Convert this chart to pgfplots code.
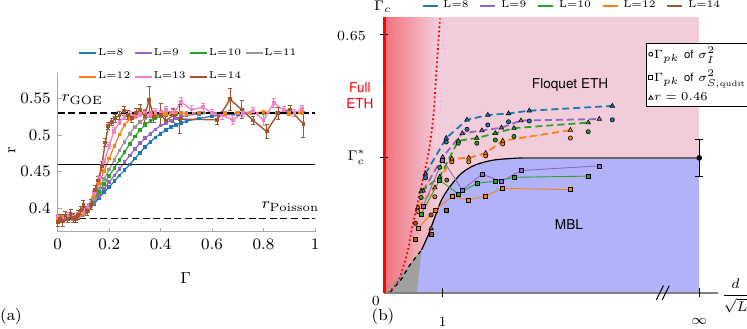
\documentclass[border=0pt]{standalone}
\usepackage{fontspec}
\usepackage{pgfplots}
\usepackage{pgfplotstable}
\pgfplotsset{compat=1.18}
\newfontfamily\helv{TeX Gyre Heros}
\definecolor{c8}{RGB}{31,119,180}
\definecolor{c9}{RGB}{148,103,189}
\definecolor{c10}{RGB}{44,160,44}
\definecolor{c11}{RGB}{150,150,150}
\definecolor{c12}{RGB}{255,127,14}
\definecolor{c13}{RGB}{240,128,200}
\definecolor{c14}{RGB}{160,85,45}
\definecolor{pinkbg}{RGB}{242,205,217}
\definecolor{bluebg}{RGB}{178,178,250}
\definecolor{redgrad}{RGB}{243,112,122}
\definecolor{graybg}{RGB}{160,160,160}

\pgfplotstableread{
x y
0.00 0.386
0.02 0.387
0.04 0.386
0.06 0.387
0.08 0.388
0.10 0.390
0.12 0.396
0.14 0.405
0.16 0.414
0.18 0.422
0.20 0.429
0.22 0.437
0.24 0.445
0.26 0.452
0.28 0.460
0.30 0.468
0.32 0.476
0.34 0.484
0.36 0.491
0.38 0.497
0.40 0.502
0.42 0.507
0.44 0.511
0.46 0.514
0.48 0.517
0.50 0.519
0.55 0.523
0.60 0.526
0.65 0.528
0.70 0.529
0.75 0.530
0.80 0.530
0.85 0.530
0.90 0.531
0.95 0.530
}\Lviii
\pgfplotstableread{
x y
0.00 0.387
0.02 0.386
0.04 0.387
0.06 0.388
0.08 0.388
0.10 0.390
0.12 0.397
0.14 0.407
0.16 0.417
0.18 0.427
0.20 0.436
0.22 0.445
0.24 0.454
0.26 0.463
0.28 0.472
0.30 0.481
0.32 0.489
0.34 0.496
0.36 0.502
0.38 0.508
0.40 0.513
0.42 0.517
0.44 0.520
0.46 0.523
0.48 0.525
0.50 0.527
0.55 0.529
0.60 0.530
0.65 0.530
0.70 0.531
0.75 0.530
0.80 0.530
0.85 0.531
0.90 0.530
0.95 0.530
}\Lix
\pgfplotstableread{
x y
0.00 0.387
0.02 0.387
0.04 0.386
0.06 0.388
0.08 0.389
0.10 0.391
0.12 0.399
0.14 0.410
0.16 0.422
0.18 0.433
0.20 0.444
0.22 0.455
0.24 0.466
0.26 0.477
0.28 0.488
0.30 0.498
0.32 0.507
0.34 0.514
0.36 0.519
0.38 0.523
0.40 0.526
0.42 0.528
0.44 0.529
0.46 0.529
0.48 0.530
0.50 0.530
0.55 0.530
0.60 0.531
0.65 0.530
0.70 0.530
0.75 0.531
0.80 0.530
0.85 0.530
0.90 0.531
0.95 0.530
}\Lx
\pgfplotstableread{
x y
0.00 0.386
0.02 0.388
0.04 0.387
0.06 0.388
0.08 0.389
0.10 0.391
0.12 0.400
0.14 0.413
0.16 0.427
0.18 0.440
0.20 0.453
0.22 0.466
0.24 0.479
0.26 0.491
0.28 0.502
0.30 0.511
0.32 0.518
0.34 0.523
0.36 0.526
0.38 0.528
0.40 0.529
0.42 0.530
0.44 0.530
0.46 0.531
0.48 0.530
0.50 0.530
0.55 0.531
0.60 0.530
0.65 0.531
0.70 0.530
0.75 0.530
0.80 0.531
0.85 0.530
0.90 0.530
0.95 0.531
}\Lxi
\pgfplotstableread{
x y
0.00 0.387
0.02 0.388
0.04 0.386
0.06 0.389
0.08 0.389
0.10 0.392
0.12 0.401
0.14 0.417
0.16 0.434
0.18 0.451
0.20 0.468
0.22 0.485
0.24 0.501
0.26 0.514
0.28 0.522
0.30 0.526
0.32 0.528
0.34 0.529
0.36 0.530
0.38 0.530
0.40 0.531
0.42 0.529
0.44 0.530
0.46 0.531
0.48 0.530
0.50 0.529
0.55 0.531
0.60 0.530
0.65 0.529
0.70 0.531
0.75 0.530
0.80 0.532
0.85 0.530
0.90 0.529
0.95 0.530
}\Lxii
\pgfplotstableread{
x y e
0.00 0.388 0.004
0.02 0.386 0.004
0.04 0.390 0.004
0.06 0.388 0.004
0.08 0.393 0.004
0.10 0.395 0.004
0.12 0.403 0.004
0.14 0.421 0.004
0.16 0.441 0.004
0.18 0.463 0.004
0.20 0.486 0.004
0.22 0.506 0.004
0.24 0.518 0.004
0.26 0.525 0.004
0.28 0.528 0.004
0.30 0.527 0.004
0.32 0.529 0.004
0.34 0.531 0.004
0.36 0.528 0.004
0.38 0.532 0.004
0.40 0.530 0.004
0.42 0.534 0.005
0.45 0.530 0.005
0.48 0.545 0.006
0.52 0.535 0.005
0.565 0.538 0.005
0.60 0.530 0.005
0.64 0.527 0.005
0.68 0.521 0.006
0.72 0.530 0.005
0.76 0.533 0.005
0.80 0.521 0.008
0.84 0.544 0.006
0.88 0.534 0.005
0.92 0.530 0.005
0.95 0.536 0.005
}\Lxiii
\pgfplotstableread{
x y e
0.000 0.381 0.006
0.010 0.386 0.006
0.020 0.383 0.008
0.030 0.389 0.006
0.040 0.385 0.005
0.050 0.392 0.007
0.060 0.387 0.006
0.070 0.385 0.005
0.080 0.391 0.006
0.090 0.397 0.006
0.100 0.404 0.007
0.115 0.396 0.006
0.130 0.405 0.007
0.145 0.425 0.006
0.158 0.438 0.006
0.171 0.458 0.006
0.185 0.490 0.006
0.197 0.513 0.005
0.210 0.518 0.005
0.223 0.523 0.005
0.240 0.527 0.005
0.258 0.533 0.006
0.272 0.528 0.006
0.288 0.524 0.006
0.305 0.530 0.006
0.320 0.535 0.007
0.338 0.526 0.008
0.355 0.548 0.018
0.374 0.525 0.007
0.400 0.528 0.015
0.420 0.520 0.006
0.449 0.527 0.010
0.475 0.522 0.020
0.620 0.521 0.006
0.670 0.549 0.015
0.715 0.535 0.012
0.760 0.520 0.006
0.812 0.505 0.010
0.857 0.530 0.008
0.903 0.535 0.005
0.955 0.515 0.018
}\Lxiv

\pgfplotsset{
  lser/.style={line width=0.6pt, mark=square*, mark size=0.6pt, forget plot,
    error bars/.cd, y dir=both, y fixed=0.0015,
    error bar style={line width=0.4pt},
    error mark options={rotate=90, mark size=0.9pt, line width=0.4pt}},
  lserE/.style={line width=0.7pt, mark=square*, mark size=0.6pt, forget plot,
    error bars/.cd, y dir=both, y explicit,
    error bar style={line width=0.5pt},
    error mark options={rotate=90, mark size=1pt, line width=0.5pt}},
  dl/.style={line width=0.9pt, dash pattern=on 3.5pt off 2pt, forget plot},
  tri/.style={only marks, mark=triangle*, mark size=1.3pt, forget plot,
    mark options={draw=black, line width=0.3pt, fill=#1}},
  circ/.style={only marks, mark=*, mark size=1.05pt, forget plot,
    mark options={draw=black, line width=0.3pt, fill=#1}},
  sqr/.style={#1, line width=0.45pt, mark=square*, mark size=1pt, forget plot,
    mark options={draw=black, line width=0.3pt, fill=#1}},
}

\begin{document}
\begin{tikzpicture}
\path[use as bounding box] (0,0) rectangle (373.5pt,164pt);

% ---------------- panel (a) ----------------
\begin{axis}[
  at={(28.85pt,48.15pt)}, anchor=south west, scale only axis,
  width=128.65pt, height=79.35pt,
  xmin=0, xmax=1, ymin=0.368, ymax=0.585,
  axis lines*=left, axis line style={gray!70, line width=0.4pt},
  tick align=inside, major tick length=2pt, tick style={gray!70, line width=0.4pt},
  xtick={0,0.2,0.4,0.6,0.8,1}, xticklabels={0,0.2,0.4,0.6,0.8,1},
  ytick={0.4,0.45,0.5,0.55}, yticklabels={0.4,0.45,0.5,0.55},
  ticklabel style={font=\fontsize{8}{9}\selectfont},
  xlabel={$\Gamma$}, ylabel={r},
  xlabel style={at={(axis description cs:0.497,-0.292)}, anchor=center, font=\fontsize{8}{9}\selectfont},
  ylabel style={at={(axis description cs:-0.178,0.515)}, anchor=center, font=\fontsize{8}{9}\selectfont},
  clip=false,
  legend columns=4,
  legend cell align=left,
  legend style={at={(0.51,1.05)}, anchor=center, draw=none, fill=none,
    inner sep=0pt, row sep=5pt, font=\fontsize{5}{6}\selectfont,
    nodes={inner sep=1pt},
    /tikz/every even column/.append style={column sep=1.2pt}},
  legend image code/.code={\fill[#1] (0pt,-0.28pt) rectangle (8pt,0.28pt);},
]
\addplot[c8, lser] table[x=x,y=y] {\Lviii};
\addplot[c9, lser] table[x=x,y=y] {\Lix};
\addplot[c10, lser] table[x=x,y=y] {\Lx};
\addplot[c11, lser] table[x=x,y=y] {\Lxi};
\addplot[c12, lser] table[x=x,y=y] {\Lxii};
\addplot[c13, lserE] table[x=x,y=y,y error=e] {\Lxiii};
\addplot[c14, lserE] table[x=x,y=y,y error=e] {\Lxiv};
\addplot[black, line width=0.8pt, dash pattern=on 3.5pt off 1.8pt, forget plot] coordinates {(0,0.5307) (1,0.5307)};
\addplot[black, line width=0.8pt, dash pattern=on 3.5pt off 1.8pt, forget plot] coordinates {(0,0.3863) (1,0.3863)};
\addplot[black, line width=0.8pt, forget plot] coordinates {(0,0.46) (1,0.46)};
\addlegendimage{color=c8}\addlegendentry{L=8}
\addlegendimage{color=c9}\addlegendentry{L=9}
\addlegendimage{color=c10}\addlegendentry{L=10}
\addlegendimage{color=c11}\addlegendentry{L=11}
\addlegendimage{color=c12}\addlegendentry{L=12}
\addlegendimage{color=c13}\addlegendentry{L=13}
\addlegendimage{color=c14}\addlegendentry{L=14}
\node[font=\fontsize{8}{9}\selectfont] at (axis cs:0.096,0.549) {$r_{\mathrm{GOE}}$};
\node[font=\fontsize{8}{9}\selectfont] at (axis cs:0.905,0.4025) {$r_{\mathrm{Poisson}}$};
\end{axis}

% ---------------- panel (b) ----------------
\begin{axis}[
  at={(192pt,17.65pt)}, anchor=south west, scale only axis,
  width=167pt, height=137.8pt,
  xmin=0, xmax=5.69, ymin=0, ymax=0.695,
  axis lines=none, clip=false,
  legend columns=5,
  legend cell align=left,
  legend style={at={(0.112,1.040)}, anchor=west, draw=none, fill=none,
    inner sep=0pt, font=\fontsize{5}{6}\selectfont,
    nodes={inner sep=1pt},
    /tikz/every odd column/.append style={column sep=1.5pt},
    /tikz/every even column/.append style={column sep=4.5pt}},
  legend image code/.code={\draw[#1] (0pt,0pt) -- (7.5pt,0pt);},
]
\addplot[draw=none, fill=pinkbg, forget plot] coordinates {(0,0) (5.37,0) (5.37,0.695) (0,0.695)} -- cycle;
\shade[left color=redgrad, right color=pinkbg] (axis cs:0,0) rectangle (axis cs:0.9,0.695);
\addplot[draw=none, fill=bluebg, forget plot] coordinates {(0.56,0) (0.64,0.108) (0.755,0.146) (0.87,0.192) (0.98,0.234) (1.12,0.267) (1.32,0.301) (1.55,0.322) (1.89,0.335) (2.35,0.340) (5.37,0.340) (5.37,0)} -- cycle;
\addplot[draw=none, fill=graybg, forget plot] coordinates {(0.02,0) (0.56,0) (0.64,0.108)} -- cycle;
\addplot[black, line width=0.6pt, dash pattern=on 2pt off 2pt, forget plot] coordinates {(0.1,0) (0.3,0.035) (0.44,0.07) (0.64,0.108)};
\addplot[black, line width=0.6pt, smooth, forget plot] coordinates {(0.64,0.108) (0.755,0.146) (0.87,0.192) (0.98,0.234) (1.12,0.267) (1.32,0.301) (1.55,0.322) (1.89,0.335) (2.35,0.340)};
\addplot[black!60, line width=1pt, forget plot] coordinates {(2.35,0.340) (5.37,0.340)};
\addplot[red, line width=0.9pt, dash pattern=on 0.9pt off 1.3pt, smooth, forget plot] coordinates {(0.07,0) (0.24,0.028) (0.33,0.066) (0.41,0.108) (0.47,0.158) (0.6,0.245) (0.755,0.35) (0.84,0.444) (0.898,0.57) (0.954,0.692)};
\addplot[gray, line width=0.8pt, forget plot] coordinates {(0,0) (5.69,0)};
\addplot[red, line width=1.5pt, forget plot] coordinates {(0,0) (0,0.695)};

% dashed lines through r=0.46 points
\addplot[c8, dl] coordinates {(0.707,0.300) (1.061,0.390) (1.414,0.436) (1.768,0.448) (2.121,0.452) (2.475,0.459) (3.889,0.471)};
\addplot[c9, dl] coordinates {(0.667,0.257) (1.0,0.342) (1.333,0.402) (1.667,0.409) (2.0,0.416) (2.333,0.434) (3.667,0.438)};
\addplot[c10, dl] coordinates {(0.632,0.255) (0.949,0.292) (1.265,0.383) (1.581,0.390) (1.897,0.402) (2.214,0.415) (3.479,0.429)};
\addplot[c12, dl] coordinates {(0.577,0.215) (0.866,0.265) (1.155,0.338) (1.443,0.340) (1.732,0.352) (2.021,0.383) (3.175,0.410)};

% squares (sigma_S)
\addplot[sqr=c9] coordinates {(0.667,0.217) (1.0,0.335) (1.333,0.259) (1.667,0.299) (2.0,0.281) (2.333,0.308) (3.667,0.320)};
\addplot[sqr=c10] coordinates {(0.632,0.198) (0.949,0.284) (1.265,0.249) (1.581,0.276) (1.897,0.281) (2.214,0.291) (3.479,0.294)};
\addplot[sqr=c12] coordinates {(0.577,0.162) (0.866,0.208) (1.155,0.242) (1.443,0.234) (1.732,0.244) (2.021,0.263) (3.175,0.260)};
\addplot[only marks, mark=square*, mark size=1pt, forget plot, mark options={draw=black, line width=0.3pt, fill=c14}] coordinates {(0.535,0.135) (0.802,0.148) (1.069,0.209)};

% circles (sigma_I)
\addplot[circ=c8] coordinates {(0.707,0.290) (1.061,0.380) (1.414,0.412) (1.768,0.423) (2.121,0.431) (2.475,0.433) (3.889,0.436)};
\addplot[circ=c10] coordinates {(0.632,0.240) (0.949,0.316) (1.265,0.377) (1.581,0.377) (1.897,0.385) (2.214,0.394) (3.479,0.406)};
\addplot[circ=c12] coordinates {(0.577,0.205) (0.866,0.242) (1.155,0.330) (1.443,0.330) (1.732,0.345) (2.021,0.375) (3.175,0.390)};
\addplot[circ=c14] coordinates {(0.535,0.175) (0.802,0.196) (1.069,0.284)};

% triangles (r = 0.46)
\addplot[tri=c8] coordinates {(0.707,0.300) (1.061,0.390) (1.414,0.436) (1.768,0.448) (2.121,0.452) (2.475,0.459) (3.889,0.471)};
\addplot[tri=c9] coordinates {(0.667,0.257) (1.0,0.342) (1.333,0.402) (1.667,0.409) (2.0,0.416) (2.333,0.434) (3.667,0.438)};
\addplot[tri=c10] coordinates {(0.632,0.255) (0.949,0.292) (1.265,0.383) (1.581,0.390) (1.897,0.402) (2.214,0.415) (3.479,0.429)};
\addplot[tri=c12] coordinates {(0.577,0.215) (0.866,0.265) (1.155,0.338) (1.443,0.340) (1.732,0.352) (2.021,0.383) (3.175,0.410)};
\addplot[tri=c14] coordinates {(0.802,0.162)};

% point at infinity
\addplot[black, mark=*, mark size=1.2pt, forget plot,
  error bars/.cd, y dir=both, y explicit,
  error bar style={line width=0.5pt},
  error mark options={rotate=90, mark size=2pt, line width=0.5pt}]
  coordinates {(5.37,0.340) +- (0,0.047)};

\addlegendimage{color=c8, line width=0.7pt}\addlegendentry{L=8}
\addlegendimage{color=c9, line width=0.7pt}\addlegendentry{L=9}
\addlegendimage{color=c10, line width=0.7pt}\addlegendentry{L=10}
\addlegendimage{color=c12, line width=0.7pt}\addlegendentry{L=12}
\addlegendimage{color=c14, line width=0.7pt}\addlegendentry{L=14}

% ticks and decorations
\draw[black, line width=0.5pt] (axis cs:1,-0.011) -- (axis cs:1,0.011);
\draw[black, line width=0.5pt] (axis cs:5.37,-0.011) -- (axis cs:5.37,0.011);
\draw[black, line width=0.5pt] (axis cs:4.64,-0.018) -- (axis cs:4.76,0.018);
\draw[black, line width=0.5pt] (axis cs:4.74,-0.018) -- (axis cs:4.86,0.018);
\draw[black, line width=0.5pt] (axis cs:-0.07,0.65) -- (axis cs:0.07,0.65);
\draw[black, line width=0.5pt] (axis cs:-0.07,0.340) -- (axis cs:0.07,0.340);

\node[font=\fontsize{7}{8}\selectfont] at (axis cs:1,-0.073) {$1$};
\node[font=\fontsize{7}{8}\selectfont] at (axis cs:5.37,-0.073) {$\infty$};
\node[font=\fontsize{7}{8}\selectfont] at (axis cs:-0.14,-0.02) {$0$};
\node[font=\fontsize{7}{8}\selectfont, anchor=east] at (axis cs:-0.19,0.647) {$0.65$};
\node[font=\fontsize{7}{8}\selectfont, anchor=east] at (axis cs:-0.19,0.342) {$\Gamma_c^*$};
\node[font=\fontsize{7}{8}\selectfont] at (axis cs:-0.02,0.722) {$\Gamma_c$};
\node[font=\fontsize{6.6}{8}\selectfont, inner sep=0pt] at (axis cs:5.99,-0.008) {$\displaystyle\frac{d}{\sqrt{L}}$};
\node[red, align=center, font=\helv\fontsize{6.8}{8.2}\selectfont] at (axis cs:-0.41,0.497) {Full\\ETH};
\node[font=\helv\fontsize{6.8}{8}\selectfont] at (axis cs:3.17,0.524) {Floquet ETH};
\node[font=\helv\fontsize{6.8}{8}\selectfont] at (axis cs:3.15,0.173) {MBL};
\end{axis}

% legend box for marker types
\begin{axis}[
  at={(192pt,17.65pt)}, anchor=south west, scale only axis,
  width=167pt, height=137.8pt,
  xmin=0, xmax=1, ymin=0, ymax=1, hide axis,
  legend cell align=left,
  legend style={at={(0.785,0.905)}, anchor=north west, draw=black, line width=0.5pt,
    fill=white, font=\fontsize{5.7}{7}\selectfont, row sep=3pt, inner sep=1pt,
    nodes={inner sep=0.6pt}},
  legend image code/.code={\draw[#1] plot coordinates {(1.2pt,0pt)};},
]
\addlegendimage{black, mark=o, mark size=1pt, line width=0.4pt}
\addlegendentry{$\Gamma_{pk}$ {\helv of} $\sigma_I^2$}
\addlegendimage{black, mark=square, mark size=1pt, line width=0.4pt}
\addlegendentry{$\Gamma_{pk}$ {\helv of} $\sigma_{S,\mathrm{qudit}}^2$}
\addlegendimage{black, mark=triangle, mark size=1.2pt, line width=0.4pt}
\addlegendentry{$r=0.46$}
\end{axis}

\node[font=\fontsize{8}{9}\selectfont] at (5.5pt,6pt) {(a)};
\node[font=\fontsize{8}{9}\selectfont] at (191.5pt,6pt) {(b)};
\end{tikzpicture}
\end{document}
